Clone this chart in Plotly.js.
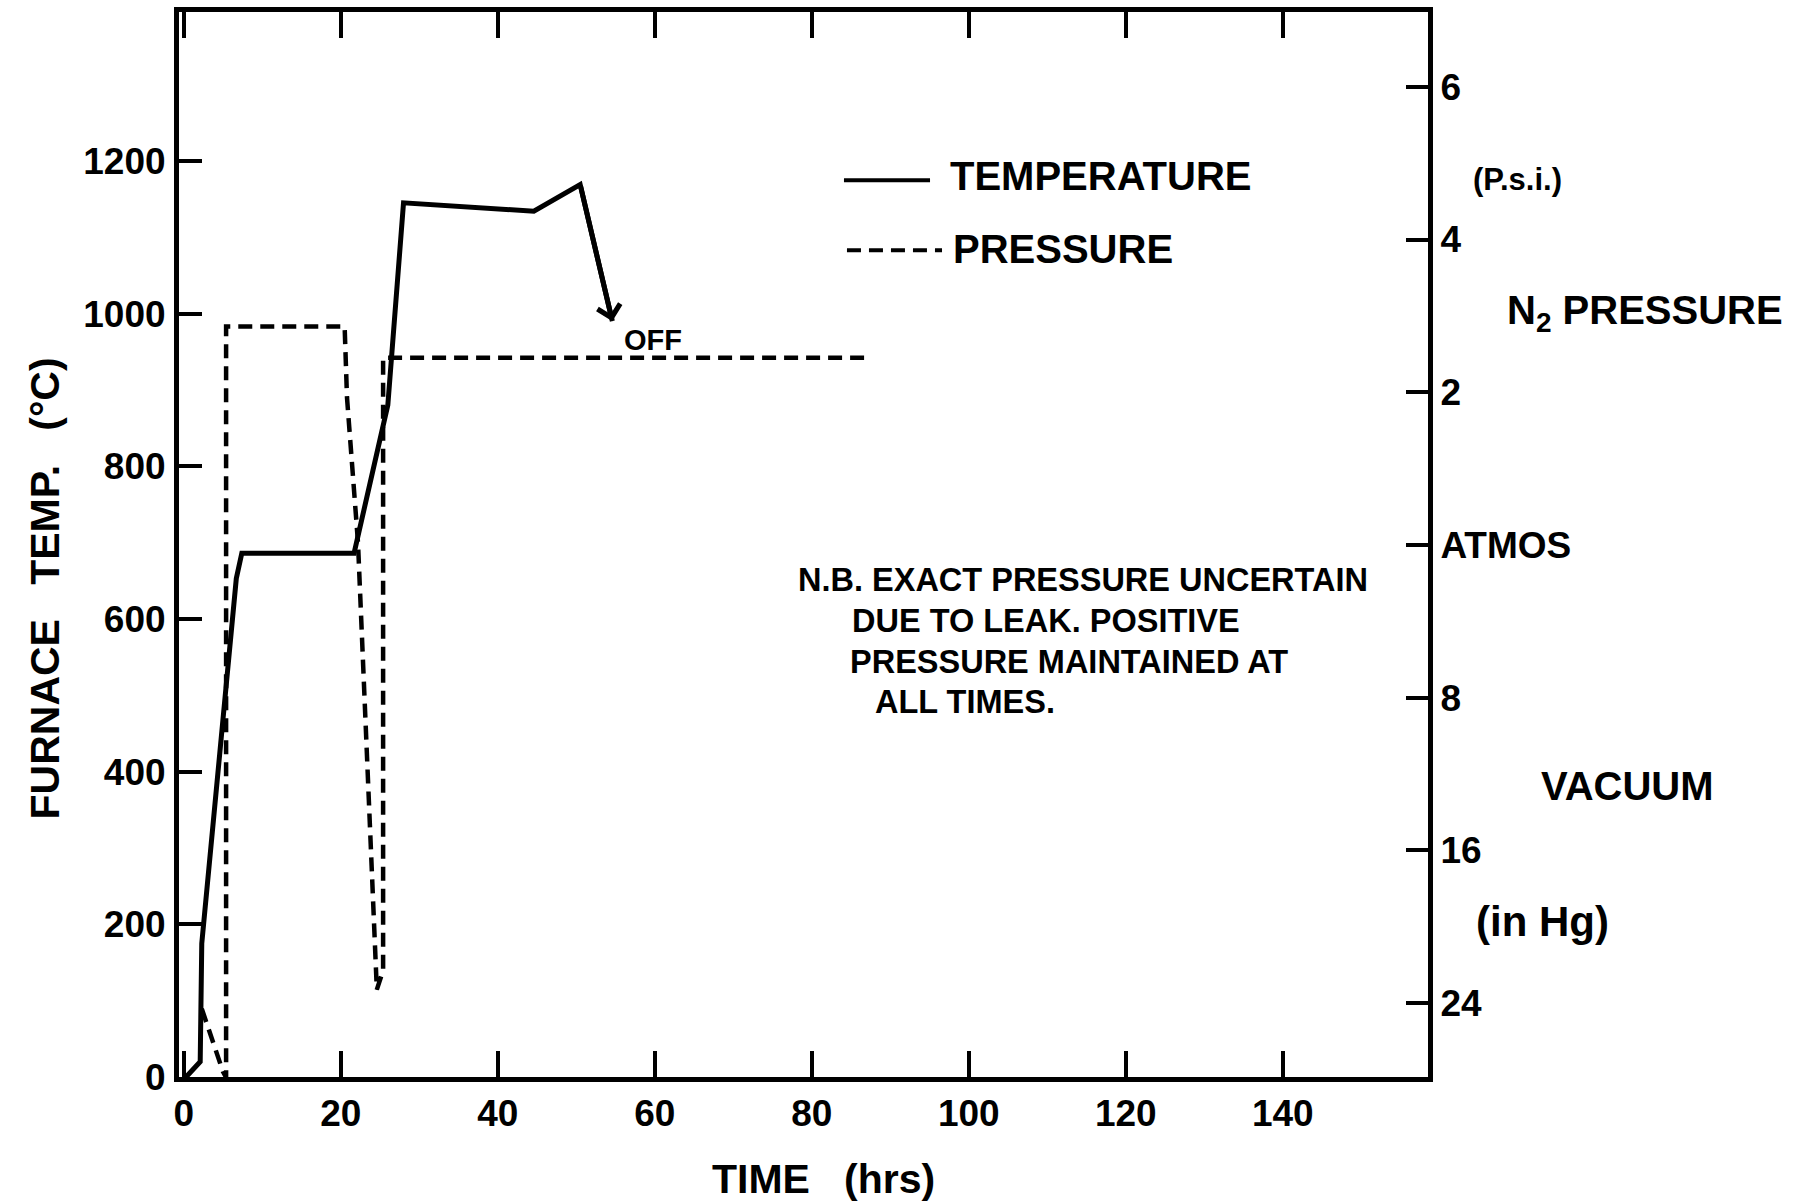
<!DOCTYPE html>
<html>
<head>
<meta charset="utf-8">
<script src="https://cdn.plot.ly/plotly-3.0.1.min.js"></script>
<style>html,body{margin:0;padding:0;background:#fff;}#chart{width:1801px;height:1204px;}</style>
</head>
<body>
<div id="chart"></div>
<script>
// ---- data ----
// furnace temperature (deg C) against time (hrs)
const temp_time  = [0.3, 1.7, 2.1, 2.3, 5.5, 6.0, 6.7, 7.4, 21.7, 26.0, 28.0, 44.6, 50.5, 54.6];
const temp_degC  = [0,   15,  20,  175, 520, 590, 653, 686, 686,  880,  1145, 1134, 1169, 990];

// N2 pressure against time (hrs): positive = gauge psi, negative = vacuum in inches Hg
const press_time  = [2.3,   5.0,   5.4,   5.4,  20.5, 20.8, 22.2, 24.6,  25.4,  25.4, 87.0];
const press_gauge = [-24.3, -27.6, -27.9, 2.86, 2.86, 1.93, 0.03, -23.3, -22.3, 2.45, 2.45];

// right-hand axis labels
const psi_ticks = [2, 4, 6];        // psi above atmospheric
const vac_ticks = [8, 16, 24];      // inches Hg of vacuum
const x_ticks   = [0, 20, 40, 60, 80, 100, 120, 140];

// ---- scales ----
// right axis: one unit per 2 psi above ATMOS, one unit per 8 in Hg below ATMOS
function pressToAxis(v) { return v >= 0 ? v / 2 : v / 8; }
const Y1_RANGE = [0, 1395];
const Y1_ATMOS = 697, Y1_PER_UNIT = 200;
const y2range = Y1_RANGE.map(v => (v - Y1_ATMOS) / Y1_PER_UNIT);

const y2vals = [], y2text = [];
vac_ticks.slice().reverse().forEach(v => { y2vals.push(pressToAxis(-v)); y2text.push(String(v)); });
y2vals.push(0); y2text.push('ATMOS');
psi_ticks.forEach(v => { y2vals.push(pressToAxis(v)); y2text.push(String(v)); });

const FONT = 'Liberation Sans, Arial, sans-serif';
const INK = '#000000';
function f(size) { return {family: FONT, size: size, color: INK, weight: 'bold'}; }

const traces = [
  {
    x: temp_time, y: temp_degC, type: 'scatter', mode: 'lines', name: 'TEMPERATURE',
    line: {color: INK, width: 5}, xaxis: 'x', yaxis: 'y', showlegend: false, hoverinfo: 'skip'
  },
  {
    x: press_time, y: press_gauge.map(pressToAxis), type: 'scatter', mode: 'lines', name: 'PRESSURE',
    line: {color: INK, width: 4.5, dash: '14px,8px'}, xaxis: 'x', yaxis: 'y2', showlegend: false, hoverinfo: 'skip'
  }
];

const n = temp_time.length;
const annotations = [
  // arrow at the end of the temperature curve
  {x: temp_time[n-1], y: temp_degC[n-1], xref: 'x', yref: 'y',
   ax: temp_time[n-2], ay: temp_degC[n-2], axref: 'x', ayref: 'y',
   text: '', showarrow: true, arrowhead: 4, arrowsize: 0.9, arrowwidth: 5, arrowcolor: INK},
  {x: 59.8, y: 965, xref: 'x', yref: 'y', text: 'OFF', showarrow: false,
   font: f(29), xanchor: 'center', yanchor: 'middle'},
  // axis titles
  {x: -0.1065, y: 0.4587, xref: 'paper', yref: 'paper', textangle: -90,
   text: 'FURNACE&nbsp;&nbsp;&nbsp;TEMP.&nbsp;&nbsp;&nbsp;(°C)', showarrow: false,
   font: f(41), xanchor: 'center', yanchor: 'middle'},
  {x: 0.5164, y: -0.0955, xref: 'paper', yref: 'paper',
   text: 'TIME&nbsp;&nbsp;&nbsp;(hrs)', showarrow: false,
   font: f(41), xanchor: 'center', yanchor: 'middle'},
  // legend text
  {x: 0.6157, y: 0.8459, xref: 'paper', yref: 'paper', text: 'TEMPERATURE', showarrow: false,
   font: f(40), xanchor: 'left', yanchor: 'middle'},
  {x: 0.6181, y: 0.7773, xref: 'paper', yref: 'paper', text: 'PRESSURE', showarrow: false,
   font: f(40), xanchor: 'left', yanchor: 'middle'},
  // note
  {x: 0.494, y: 0.4671, xref: 'paper', yref: 'paper', text: 'N.B. EXACT PRESSURE UNCERTAIN', showarrow: false,
   font: f(32.5), xanchor: 'left', yanchor: 'middle'},
  {x: 0.5372, y: 0.4286, xref: 'paper', yref: 'paper', text: 'DUE TO LEAK. POSITIVE', showarrow: false,
   font: f(32.5), xanchor: 'left', yanchor: 'middle'},
  {x: 0.5356, y: 0.3900, xref: 'paper', yref: 'paper', text: 'PRESSURE MAINTAINED AT', showarrow: false,
   font: f(32.5), xanchor: 'left', yanchor: 'middle'},
  {x: 0.5556, y: 0.3524, xref: 'paper', yref: 'paper', text: 'ALL TIMES.', showarrow: false,
   font: f(32.5), xanchor: 'left', yanchor: 'middle'},
  // right-hand axis captions
  {x: 1.0713, y: 0.8430, xref: 'paper', yref: 'paper', text: '(P.s.i.)', showarrow: false,
   font: f(31), xanchor: 'center', yanchor: 'middle'},
  {x: 1.0616, y: 0.7170, xref: 'paper', yref: 'paper', text: 'N<sub>2</sub> PRESSURE', showarrow: false,
   font: f(40), xanchor: 'left', yanchor: 'middle'},
  {x: 1.0889, y: 0.2735, xref: 'paper', yref: 'paper', text: 'VACUUM', showarrow: false,
   font: f(40), xanchor: 'left', yanchor: 'middle'},
  {x: 1.0368, y: 0.1457, xref: 'paper', yref: 'paper', text: '(in Hg)', showarrow: false,
   font: f(42), xanchor: 'left', yanchor: 'middle'}
];

const shapes = [
  // legend samples
  {type: 'line', xref: 'paper', yref: 'paper', x0: 0.5324, x1: 0.6013, y0: 0.8421, y1: 0.8421,
   line: {color: INK, width: 4}},
  {type: 'line', xref: 'paper', yref: 'paper', x0: 0.5348, x1: 0.6109, y0: 0.7763, y1: 0.7763,
   line: {color: INK, width: 4, dash: '14px,8px'}}
];

const tickFont = f(37);

const layout = {
  width: 1801, height: 1204,
  paper_bgcolor: '#ffffff', plot_bgcolor: '#ffffff',
  margin: {l: 179, r: 373, t: 12, b: 127},
  showlegend: false,
  xaxis: {
    range: [-0.6, 158.5], tickvals: x_ticks, ticks: 'inside', ticklen: 26, tickwidth: 4, tickcolor: INK,
    showline: true, linewidth: 5, linecolor: INK, mirror: 'ticks', showgrid: false, zeroline: false,
    tickfont: tickFont, ticklabelstandoff: 0
  },
  yaxis: {
    range: Y1_RANGE, dtick: 200, tick0: 0, ticks: 'inside', ticklen: 23, tickwidth: 4, tickcolor: INK,
    showline: true, linewidth: 5, linecolor: INK, showgrid: false, zeroline: false,
    tickfont: tickFont, ticklabelstandoff: 1
  },
  yaxis2: {
    overlaying: 'y', side: 'right', range: y2range, tickvals: y2vals, ticktext: y2text,
    ticks: 'inside', ticklen: 22, tickwidth: 4, tickcolor: INK,
    showline: true, linewidth: 5, linecolor: INK, showgrid: false, zeroline: false,
    tickfont: tickFont, ticklabelstandoff: 0
  },
  annotations: annotations,
  shapes: shapes
};

Plotly.newPlot('chart', traces, layout, {staticPlot: true, displayModeBar: false});
</script>
</body>
</html>
